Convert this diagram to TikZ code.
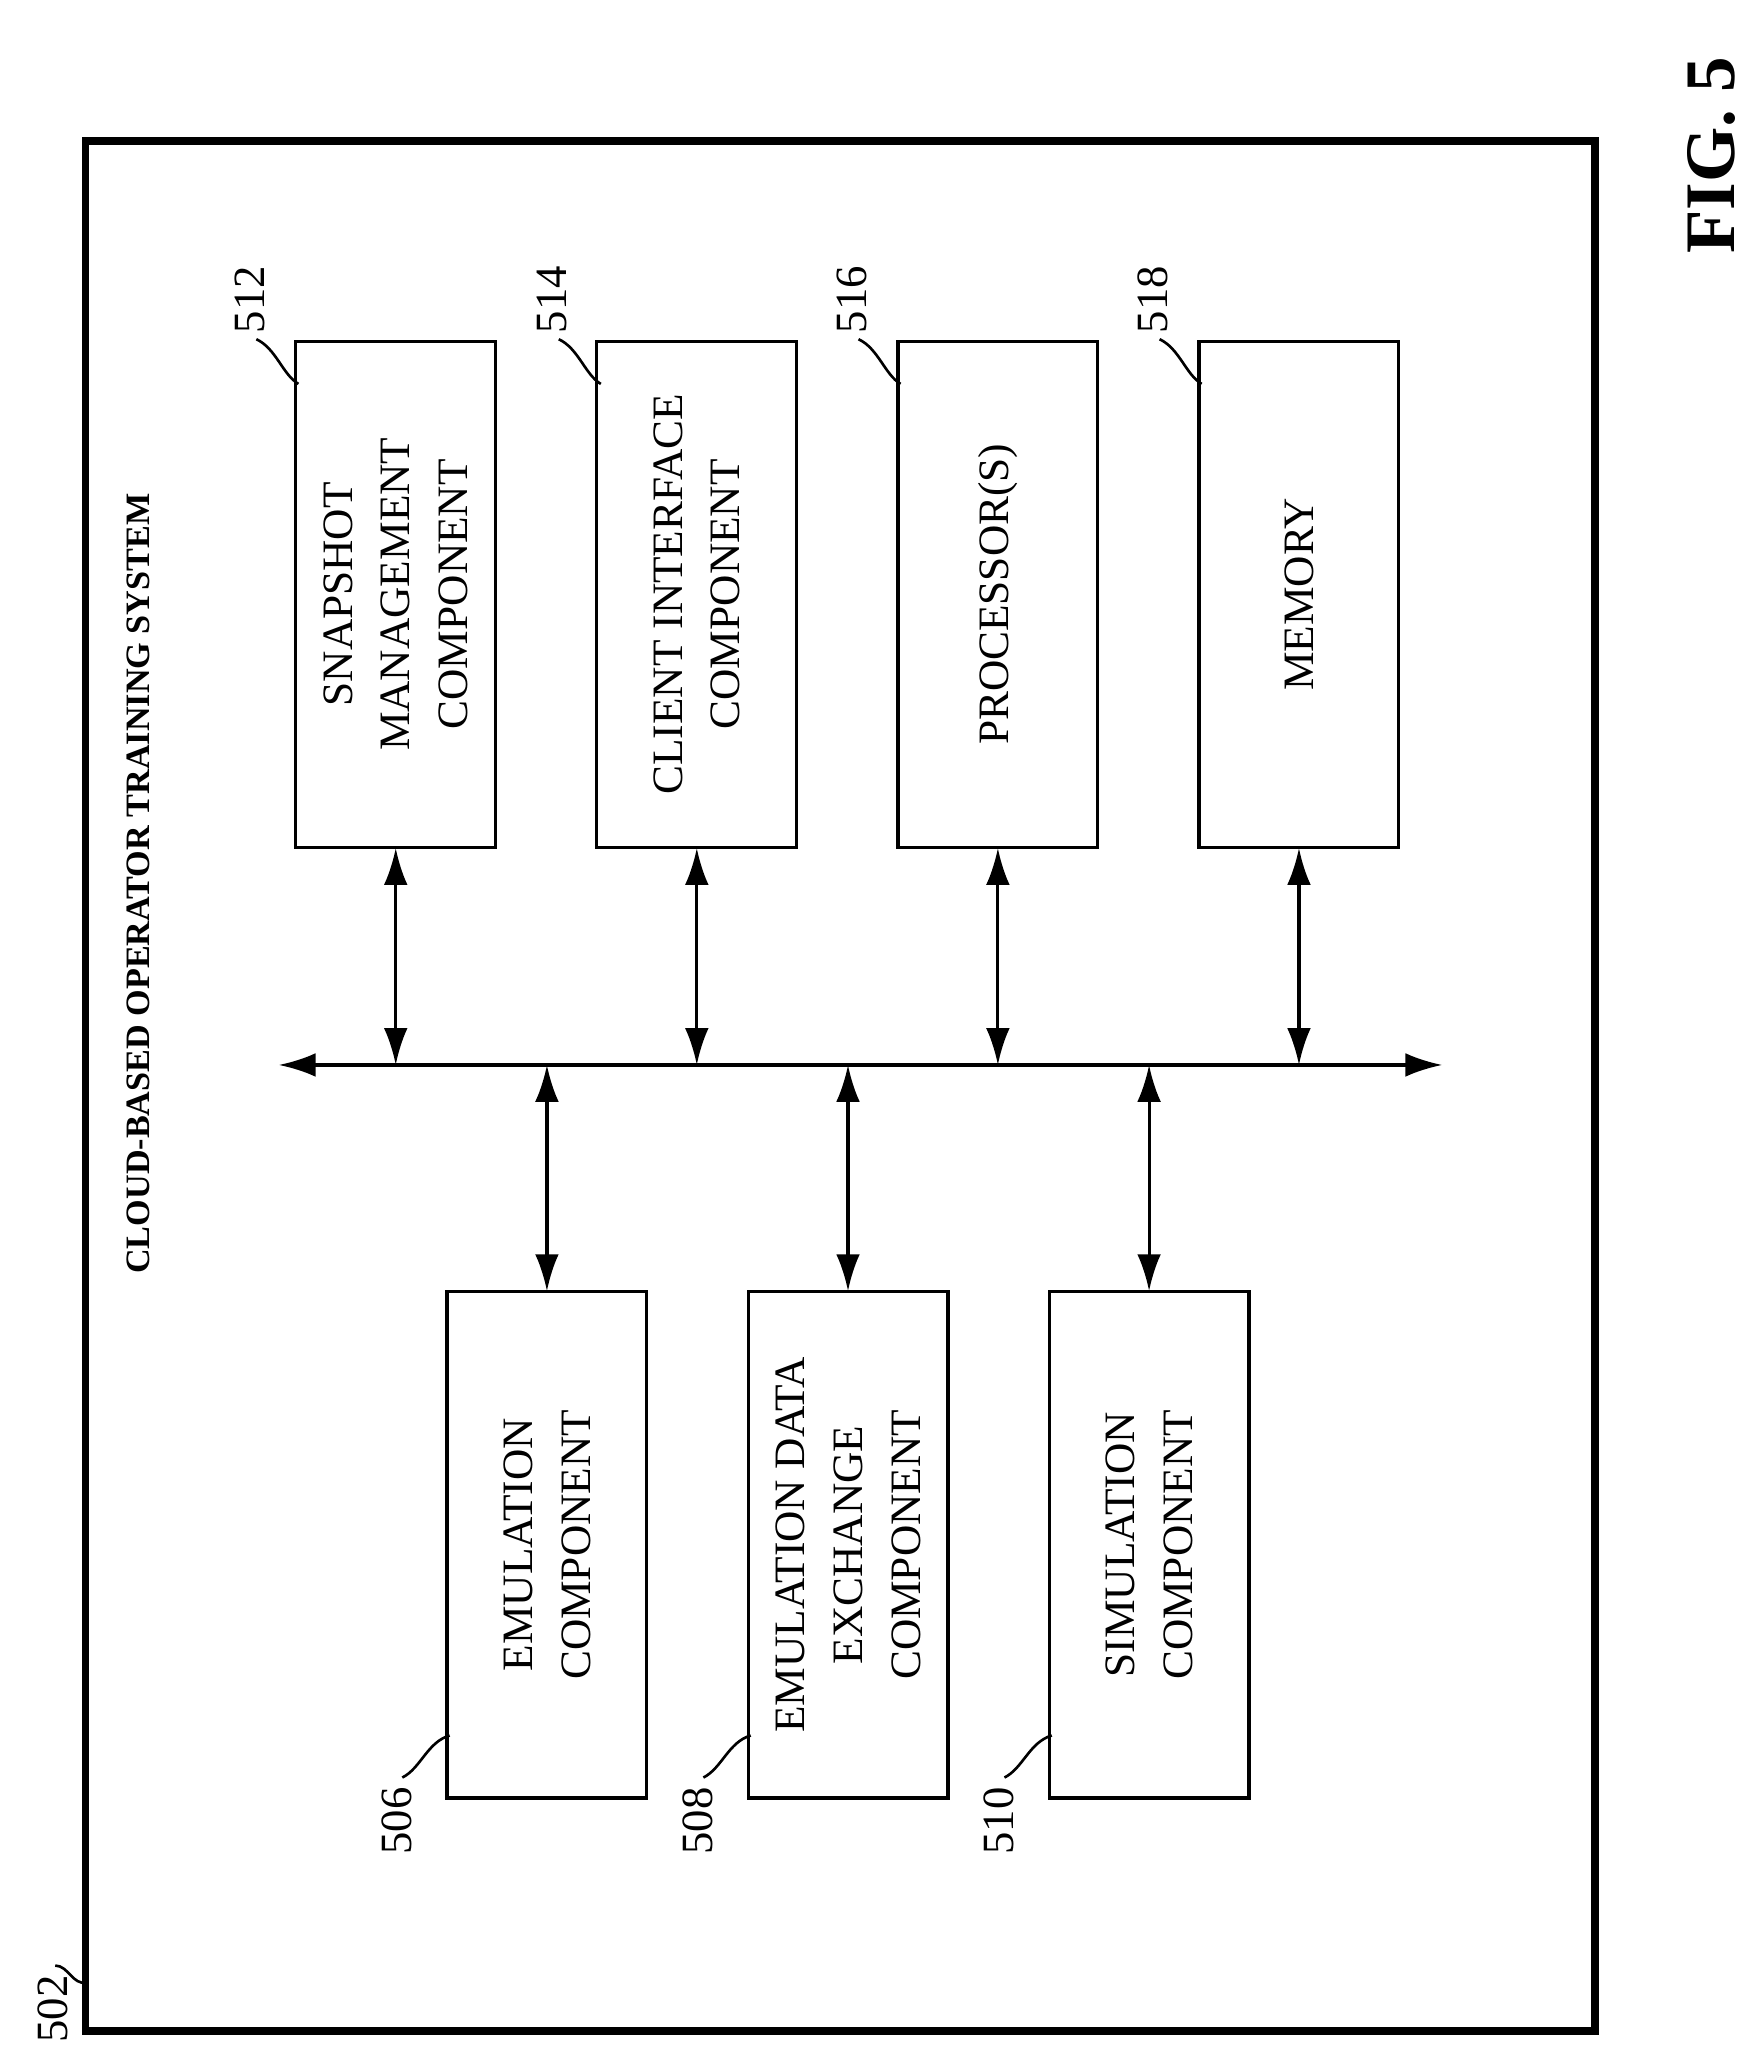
\documentclass[tikz,border=0pt]{standalone}
\usepackage{fontspec}
\setmainfont{Liberation Serif}
\usetikzlibrary{arrows.meta}
\begin{document}
\begin{tikzpicture}[x=0.5pt,y=-0.5pt,
 box/.style={draw,line width=1.2pt,minimum width=385*0.5pt,minimum height=152*0.5pt,rotate=90,align=center,font=\fontsize{16.5}{22}\selectfont,inner sep=0pt},
 lbl/.style={rotate=90,font=\fontsize{17}{20}\selectfont},
 arr/.style={line width=1.2pt,{Latex[length=14pt,width=9pt]}-{Latex[length=14pt,width=9pt]}},
 lead/.style={line width=1pt}]
\useasboundingbox (0,0) rectangle (1329,1560);
\draw[line width=3pt] (65,107) rectangle (1213,1545);
\node[rotate=90,font=\bfseries\fontsize{13}{16}\selectfont] (title) at (105,672) {CLOUD-BASED OPERATOR TRAINING SYSTEM};
\node[rotate=90,font=\bfseries\fontsize{27}{30}\selectfont] (fig) at (1302,118) {FIG. 5};
% upper boxes
\node[box] (b512) at (301,452) {SNAPSHOT\\MANAGEMENT\\COMPONENT};
\node[box] (b514) at (530,452) {CLIENT INTERFACE\\COMPONENT};
\node[box] (b516) at (759,452) {PROCESSOR(S)};
\node[box] (b518) at (988,452) {MEMORY};
% lower boxes
\node[box] (b506) at (416,1175) {EMULATION\\COMPONENT};
\node[box] (b508) at (645,1175) {EMULATION DATA\\EXCHANGE\\COMPONENT};
\node[box] (b510) at (874,1175) {SIMULATION\\COMPONENT};
% bus
\coordinate (busL) at (212,810);
\coordinate (busR) at (1097,810);
\draw[arr] (busL) -- (busR);
\foreach \n/\x in {512/301,514/530,516/759,518/988}{
 \coordinate (u\n) at (\x,810);
 \coordinate (e\n) at (\x,645);
 \draw[arr] (e\n) -- (u\n);}
\foreach \n/\x in {506/416,508/645,510/874}{
 \coordinate (l\n) at (\x,810);
 \coordinate (e\n) at (\x,982);
 \draw[arr] (e\n) -- (l\n);}
% labels upper
\foreach \n/\x in {512/225,514/455,516/683,518/912}{
 \node[lbl] (t\n) at (\x-35,228) {\n};
 \draw[lead] (\x+2,292) .. controls (\x-10,285) and (\x-15,265) .. (\x-30,258);}
% labels lower
\foreach \n/\x in {506/340,508/569,510/798}{
 \node[lbl] (t\n) at (\x-38,1385) {\n};
 \draw[lead] (\x+2,1320) .. controls (\x-15,1325) and (\x-20,1345) .. (\x-34,1352);}
\node[lbl] (t502) at (40,1528) {502};
\draw[lead] (66,1508) .. controls (55,1510) and (52,1495) .. (42,1495);
\end{tikzpicture}
\end{document}
